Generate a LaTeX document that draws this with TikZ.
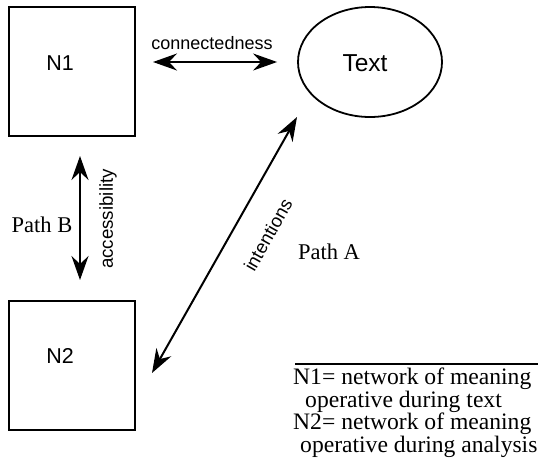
\documentclass[tikz,border=0pt]{standalone}
\usepackage{fontspec}
\setmainfont{Liberation Serif}
\setsansfont{Liberation Sans}
\usetikzlibrary{arrows.meta,shapes.geometric,calc}
\begin{document}
\begin{tikzpicture}[x=1pt,y=-1pt,
 box/.style={draw,line width=2pt,minimum width=126pt,minimum height=129pt,inner sep=0pt},
 boxlabel/.style={font=\sffamily\fontsize{21.5}{25}\selectfont,inner sep=0pt},
 oval/.style={draw,ellipse,line width=1.8pt,minimum width=144pt,minimum height=110pt,inner sep=0pt},
 arr/.style={line width=2pt,{Stealth[length=24pt,width=17pt,inset=8pt]}-{Stealth[length=24pt,width=17pt,inset=8pt]}},
 slabel/.style={font=\sffamily\fontsize{18}{21}\selectfont,inner sep=0pt},
 plabel/.style={font=\rmfamily\fontsize{22.5}{26}\selectfont,inner sep=0pt},
 legend/.style={font=\rmfamily\fontsize{23.6}{27}\selectfont,inner sep=0pt,anchor=base west}]
\useasboundingbox (0,0) rectangle (538,467);
\fill[white] (0,0) rectangle (538,467);
% boxes and oval
\node[box] (n1) at (72,71.5) {};
\node[boxlabel] (n1t) at (60,63) {N1};
\node[box] (n2) at (71.5,365.5) {};
\node[boxlabel] (n2t) at (60,356) {N2};
\node[oval] (txt) at (370,62) {};
\node[font=\sffamily\fontsize{24.5}{28}\selectfont,inner sep=0pt] (txtl) at (365,63) {Text};
% connectedness
\draw[arr,shorten <=17pt,shorten >=20pt] (n1.east |- txt.west) -- (txt.west);
\node[slabel] (cl) at (212,43) {connectedness};
% accessibility
\coordinate (acx) at (80,0);
\draw[arr,shorten <=19pt,shorten >=20pt] (n1.south -| acx) -- (n2.north -| acx);
\node[slabel,font=\sffamily\fontsize{18.7}{22}\selectfont,rotate=90] (acc) at (108,219) {accessibility};
\node[plabel] (pb) at (42,225) {Path B};
% intentions
\coordinate (ilo) at (152,373);
\coordinate (ihi) at (297,117);
\draw[arr] (ilo) -- (ihi);
\node[slabel,font=\sffamily\fontsize{18.5}{22}\selectfont,rotate=60.5] (int) at (268,235) {intentions};
\node[plabel] (pa) at (329,252) {Path A};
% legend
\coordinate (rl) at (295,364);
\coordinate (rr) at (538,364);
\draw[line width=1.3pt] (rl) -- (rr);
\node[legend] (l1) at (293,384) {N1= network of meaning};
\node[legend] (l2) at (305,407) {operative during text};
\node[legend] (l3) at (293,429) {N2= network of meaning};
\node[legend] (l4) at (300,452) {operative during analysis};
\end{tikzpicture}
\end{document}
